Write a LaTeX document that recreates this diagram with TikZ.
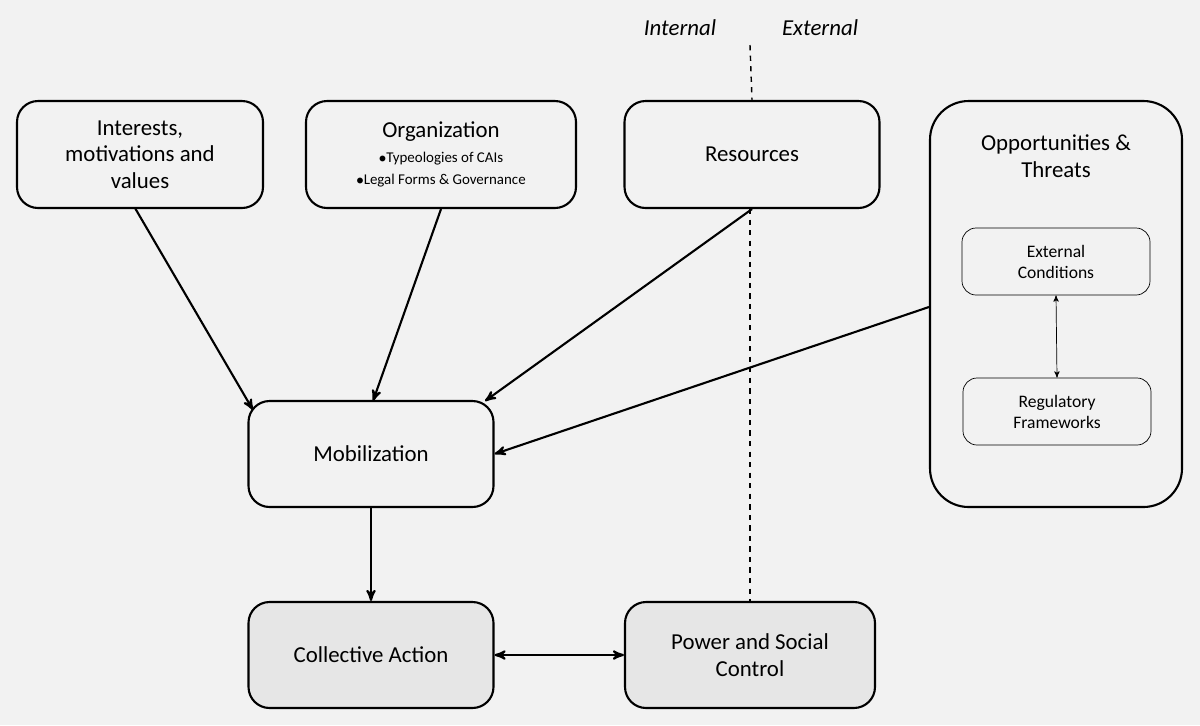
\documentclass[tikz,border=0pt]{standalone}
\usepackage{fontspec}
\setmainfont{Carlito}
\usetikzlibrary{positioning,arrows}
\definecolor{bgc}{HTML}{F2F2F2}
\definecolor{boxfill}{HTML}{E6E6E6}
\begin{document}
\begin{tikzpicture}[x=0.02cm,y=-0.02cm]
\tikzstyle{block}=[draw=black,very thick,rounded corners=12pt,align=center,
font=\fontsize{13}{15}\selectfont,inner sep=2pt]
\tikzstyle{inner}=[draw=black,thin,rounded corners=8pt,align=center,
font=\fontsize{10}{12}\selectfont,minimum width=188*0.02cm,minimum height=67*0.02cm]
\tikzstyle{link}=[->,>=stealth',very thick]
\fill[bgc] (0,0) rectangle (1200,725);
\useasboundingbox (0,0) rectangle (1200,725);
\node[block,minimum width=246*0.02cm,minimum height=107*0.02cm] at (140,154.5) (interests)
 {Interests,\\motivations and\\values};
\node[block,minimum width=270*0.02cm,minimum height=107*0.02cm] at (441,154.5) (org)
 {Organization\\[-1pt]{\fontsize{8.5}{10}\selectfont\raggedright $\bullet$Typeologies of CAIs\hspace*{3.6em}}\\[-2pt]
 {\fontsize{8.5}{10}\selectfont $\bullet$Legal Forms \& Governance}};
\node[block,minimum width=255*0.02cm,minimum height=107*0.02cm] at (752,154.5) (res) {Resources};
\node[block,rounded corners=22pt,minimum width=252*0.02cm,minimum height=406*0.02cm] at (1056,304) (opp) {};
\node[align=center,font=\fontsize{13}{15}\selectfont] at (1056,156) (opptitle) {Opportunities \&\\Threats};
\node[inner] at (1056,261.5) (ext) {External\\Conditions};
\node[inner] at (1057,411.5) (reg) {Regulatory\\Frameworks};
\node[block,minimum width=245*0.02cm,minimum height=106*0.02cm] at (371,454) (mob) {Mobilization};
\node[block,fill=boxfill,minimum width=245*0.02cm,minimum height=106*0.02cm] at (371,655) (coll) {Collective Action};
\node[block,fill=boxfill,minimum width=250*0.02cm,minimum height=106*0.02cm] at (750,655) (power) {Power and Social\\Control};
\node[font=\fontsize{13}{15}\selectfont\itshape] at (680,28) (int) {Internal};
\node[font=\fontsize{13}{15}\selectfont\itshape] at (820,28) (extl) {External};
\coordinate (dtop) at (750,45);
\draw[thick,dashed] (dtop) -- (res.north);
\draw[thick,dashed] (res.south -| dtop) -- (power.north);
\draw[link] (135,208) -- (253,410);
\draw[link] (org.south) -- (373,401);
\draw[link] (res.south) -- (485,401);
\draw[link] (opp.west |- 0,307) -- (mob.east);
\draw[link] (mob.south) -- (coll.north);
\draw[link,<->] (coll.east) -- (power.west);
\draw[->,>=stealth',thin,<->] (ext.south) -- (reg.north);
\end{tikzpicture}
\end{document}
